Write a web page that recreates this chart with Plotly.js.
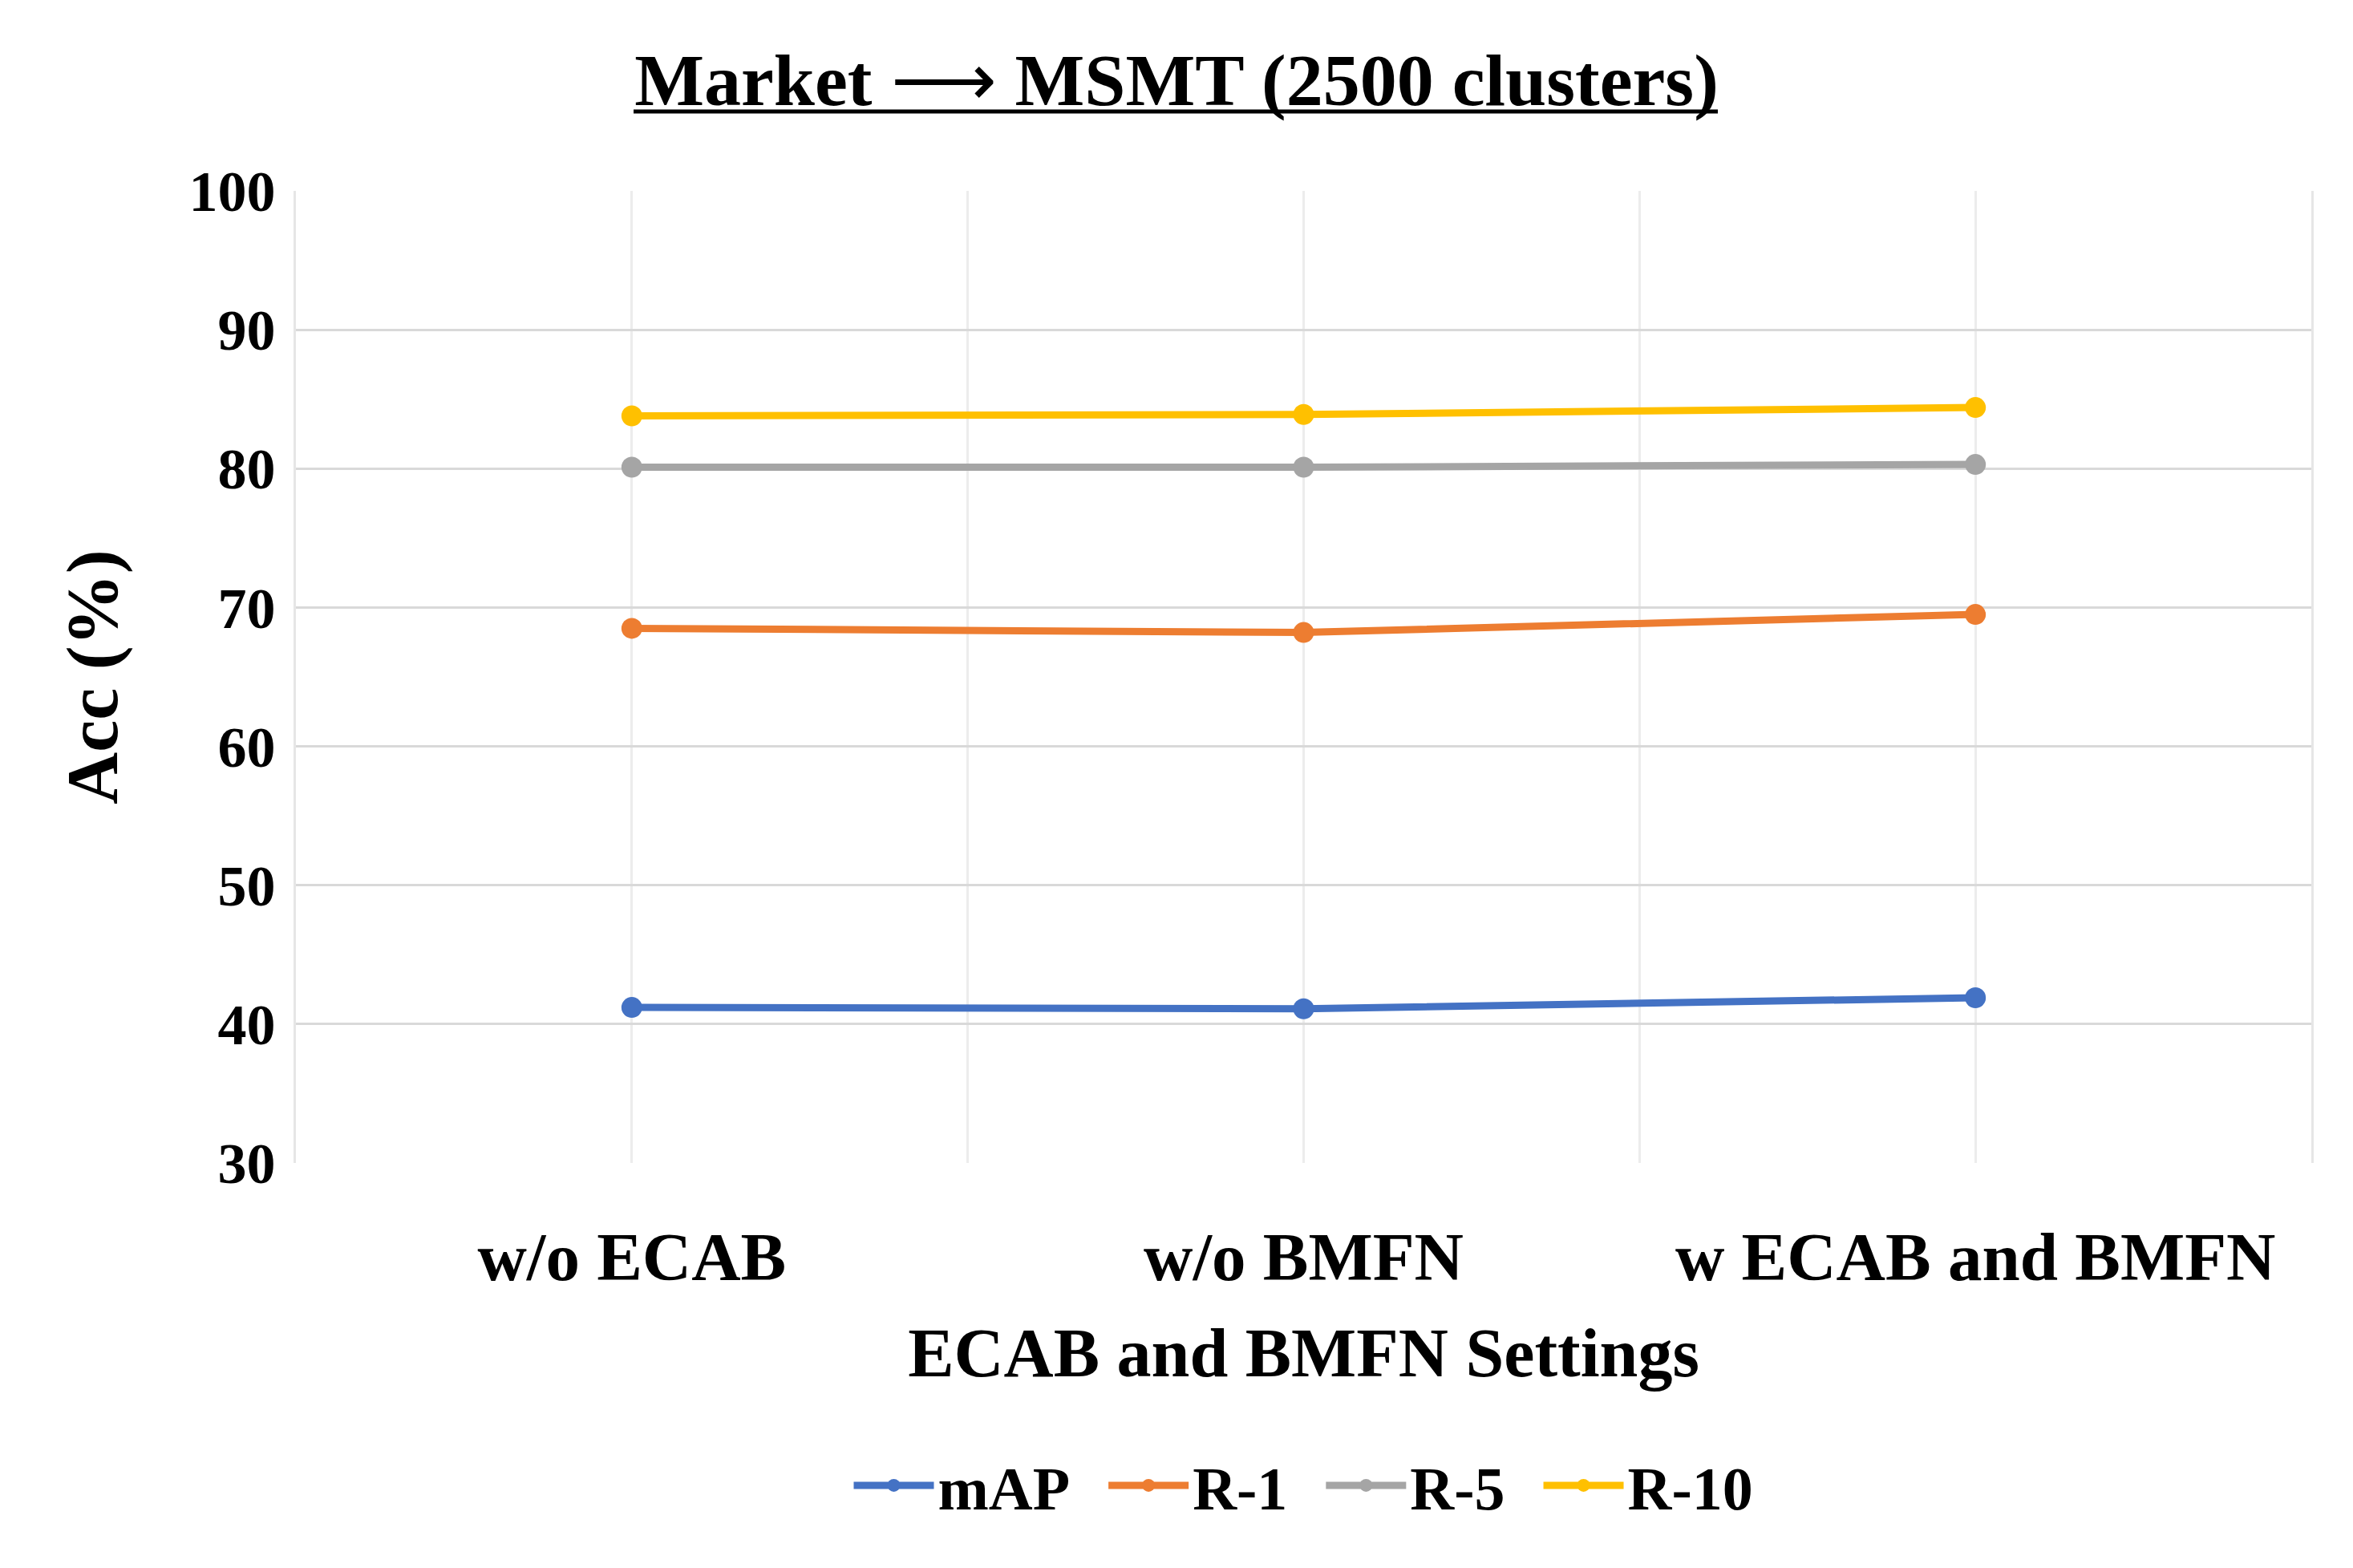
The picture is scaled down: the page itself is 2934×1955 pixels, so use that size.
<!DOCTYPE html>
<html>
<head>
<meta charset="utf-8">
<script src="https://cdn.plot.ly/plotly-3.0.1.min.js"></script>
<style>html,body{margin:0;padding:0;background:#fff;}#chart{width:2934px;height:1955px;}</style>
</head>
<body>
<div id="chart"></div>
<script>
const categories = ["w/o ECAB", "w/o BMFN", "w ECAB and BMFN"];
const seriesNames = ["mAP", "R-1", "R-5", "R-10"];
const mAP = [41.2, 41.1, 41.9];
const R1 = [68.5, 68.2, 69.5];
const R5 = [80.1, 80.1, 80.3];
const R10 = [83.8, 83.9, 84.4];
const yTicks = [30, 40, 50, 60, 70, 80, 90, 100];

const colors = ["#4472C4", "#ED7D31", "#A5A5A5", "#FFC000"];
const seriesValues = [mAP, R1, R5, R10];
const xIdx = categories.map((c, i) => i);
const FONT = "'Liberation Serif', 'Times New Roman', serif";
const NBSP = "\u00a0";

const traces = seriesNames.map((name, k) => ({
  type: "scatter",
  mode: "lines+markers",
  name: "<b>" + name + "</b>" + (k < seriesNames.length - 1 ? NBSP + NBSP : ""),
  x: xIdx,
  y: seriesValues[k],
  line: {color: colors[k], width: 9},
  marker: {color: colors[k], size: 26},
  hoverinfo: "x+y+name"
}));

const layout = {
  width: 2934,
  height: 1955,
  paper_bgcolor: "#ffffff",
  plot_bgcolor: "#ffffff",
  margin: {l: 369, r: 52, t: 238, b: 505, pad: 0},
  font: {family: FONT, color: "#000000"},
  title: {
    text: "<b>Market</b> ⟶ <b>MSMT (2500 clusters)</b>",
    font: {family: FONT, size: 92, color: "#000000"},
    x: 0.5, xanchor: "center",
    y: 1 - 99 / 1955, yanchor: "middle", yref: "container"
  },
  shapes: [{
    type: "line", xref: "paper", yref: "paper",
    x0: (790 - 369) / 2513, x1: (2142 - 369) / 2513,
    y0: (1450 - 139) / 1212, y1: (1450 - 139) / 1212,
    line: {color: "#000000", width: 5}
  }],
  xaxis: {
    type: "linear",
    range: [-0.5, 2.5],
    tickmode: "array",
    tickvals: xIdx,
    ticktext: categories.map(c => "<b>" + c + "</b>"),
    tickfont: {family: FONT, size: 85, color: "#000000"},
    ticks: "",
    ticklabelstandoff: 60,
    showgrid: true,
    gridcolor: "#ececec",
    gridwidth: 3,
    minor: {tickmode: "linear", tick0: -0.5, dtick: 1, showgrid: true, gridcolor: "#ececec", gridwidth: 3, ticks: ""},
    zeroline: false,
    showline: false,
    automargin: false,
    fixedrange: true,
    title: {
      text: "<b>ECAB and BMFN Settings</b>",
      font: {family: FONT, size: 86, color: "#000000"},
      standoff: 42
    }
  },
  yaxis: {
    range: [30, 100],
    tickmode: "array",
    tickvals: yTicks,
    ticktext: yTicks.map(v => "<b>" + v + "</b>"),
    tickfont: {family: FONT, size: 72, color: "#000000"},
    ticks: "",
    ticklabelstandoff: 8,
    showgrid: true,
    gridcolor: "#d9d9d9",
    gridwidth: 3,
    zeroline: false,
    showline: true,
    mirror: true,
    linecolor: "#e6e6e6",
    linewidth: 3,
    automargin: false,
    fixedrange: true,
    title: {
      text: "<b>Acc (%)</b>",
      font: {family: FONT, size: 90, color: "#000000"},
      standoff: 60
    }
  },
  showlegend: true,
  legend: {
    orientation: "h",
    x: 0.5, xanchor: "center", xref: "paper",
    y: (1450 - 1852) / 1212, yanchor: "middle", yref: "paper",
    font: {family: FONT, size: 76, color: "#000000"},
    itemwidth: 100,
    tracegroupgap: 0,
    bgcolor: "rgba(0,0,0,0)"
  }
};

Plotly.newPlot("chart", traces, layout, {displayModeBar: false, staticPlot: true});
</script>
</body>
</html>
